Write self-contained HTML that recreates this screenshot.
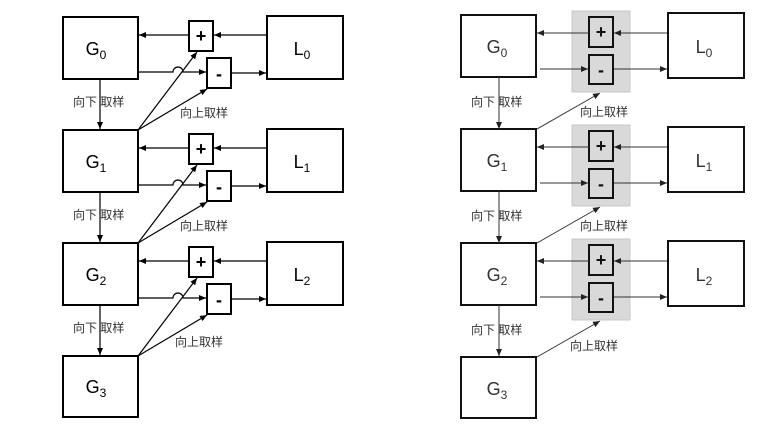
<!DOCTYPE html>
<html><head><meta charset="utf-8"><style>
body{margin:0;background:#fff;}
svg{display:block;font-family:"Liberation Sans","Noto Sans CJK SC",sans-serif;}
</style></head><body>
<svg width="783" height="424" viewBox="0 0 783 424" xmlns="http://www.w3.org/2000/svg">
<defs>
<marker id="a" markerWidth="8" markerHeight="8" refX="7" refY="4" orient="auto" markerUnits="userSpaceOnUse"><path d="M0,1 L7,4 L0,7z" fill="#000"/></marker>
<marker id="b" markerWidth="8" markerHeight="8" refX="7" refY="4" orient="auto" markerUnits="userSpaceOnUse"><path d="M0,1 L7,4 L0,7z" fill="#222"/></marker>
</defs>
<!-- LEFT -->
<g stroke="#000" fill="none" stroke-width="1.2">
<g id="L0">
<rect x="63" y="17" width="75" height="62" stroke-width="2"/>
<rect x="189" y="21" width="24" height="30" stroke-width="2"/>
<rect x="207" y="58" width="24" height="30" stroke-width="2"/>
<rect x="267" y="16" width="76" height="63" stroke-width="2"/>
<line x1="189" y1="35" x2="139" y2="35" marker-end="url(#a)"/>
<line x1="266" y1="35" x2="214" y2="35" marker-end="url(#a)"/>
<path d="M138,72 L173,72 A5,5 0 0 1 183,72 L206,72" marker-end="url(#a)"/>
<line x1="232" y1="73" x2="266" y2="73" marker-end="url(#a)"/>
</g>
<use href="#L0" y="113"/>
<use href="#L0" y="226"/>
<rect x="63" y="356" width="75" height="61" stroke-width="2"/>
<line x1="100" y1="79" x2="100" y2="129" marker-end="url(#a)"/>
<line x1="100" y1="192" x2="100" y2="242" marker-end="url(#a)"/>
<line x1="100" y1="305" x2="100" y2="355" marker-end="url(#a)"/>
<g id="U">
<line x1="138" y1="130" x2="197" y2="52" marker-end="url(#a)"/>
<line x1="138" y1="130" x2="207" y2="89" marker-end="url(#a)"/>
</g>
<use href="#U" y="113"/>
<use href="#U" y="226"/>
</g>
<g font-size="18" text-anchor="middle" fill="#000">
<text x="96" y="55">G<tspan font-size="12" dy="4">0</tspan></text>
<text x="96" y="168">G<tspan font-size="12" dy="4">1</tspan></text>
<text x="96" y="281">G<tspan font-size="12" dy="4">2</tspan></text>
<text x="96" y="393">G<tspan font-size="12" dy="4">3</tspan></text>
<text x="302" y="55">L<tspan font-size="12" dy="4">0</tspan></text>
<text x="302" y="168">L<tspan font-size="12" dy="4">1</tspan></text>
<text x="302" y="281">L<tspan font-size="12" dy="4">2</tspan></text>
</g>
<g font-size="18" font-weight="bold" text-anchor="middle">
<text x="201" y="42">+</text><text x="219" y="80">-</text>
<text x="201" y="155">+</text><text x="219" y="193">-</text>
<text x="201" y="268">+</text><text x="219" y="306">-</text>
</g>
<g font-size="12" fill="#333">
<text x="73" y="106">向下 取样</text><text x="180" y="117">向上取样</text>
<text x="73" y="219">向下 取样</text><text x="180" y="230">向上取样</text>
<text x="73" y="332">向下 取样</text><text x="175" y="346">向上取样</text>
</g>
<!-- RIGHT -->
<g stroke="#333" fill="none" stroke-width="1">
<g id="R0">
<rect x="572" y="11" width="58" height="81" fill="#d9d9d9" stroke="#c8c8c8"/>
<rect x="461" y="15" width="75" height="62" stroke="#111" stroke-width="2"/>
<rect x="589" y="17" width="24" height="30" fill="#d9d9d9" stroke="#111" stroke-width="2"/>
<rect x="589" y="55" width="24" height="29" fill="#d9d9d9" stroke="#111" stroke-width="2"/>
<rect x="668" y="13" width="76" height="65" stroke="#111" stroke-width="2"/>
<line x1="589" y1="33" x2="537" y2="33" marker-end="url(#b)"/>
<line x1="667" y1="33" x2="614" y2="33" marker-end="url(#b)"/>
<line x1="540" y1="69" x2="588" y2="69" marker-end="url(#b)"/>
<line x1="614" y1="69" x2="667" y2="69" marker-end="url(#b)"/>
</g>
<use href="#R0" y="114"/>
<use href="#R0" y="228"/>
<rect x="461" y="357" width="75" height="61" stroke="#111" stroke-width="2"/>
<line x1="499" y1="77" x2="499" y2="129" marker-end="url(#b)"/>
<line x1="499" y1="191" x2="499" y2="243" marker-end="url(#b)"/>
<line x1="499" y1="305" x2="499" y2="356" marker-end="url(#b)"/>
<line x1="537" y1="129" x2="600" y2="93" marker-end="url(#b)"/>
<line x1="537" y1="243" x2="600" y2="207" marker-end="url(#b)"/>
<line x1="537" y1="357" x2="600" y2="321" marker-end="url(#b)"/>
</g>
<g font-size="18" text-anchor="middle" fill="#333">
<text x="497" y="53">G<tspan font-size="12" dy="4">0</tspan></text>
<text x="497" y="167">G<tspan font-size="12" dy="4">1</tspan></text>
<text x="497" y="281">G<tspan font-size="12" dy="4">2</tspan></text>
<text x="497" y="395">G<tspan font-size="12" dy="4">3</tspan></text>
<text x="704" y="53">L<tspan font-size="12" dy="4">0</tspan></text>
<text x="704" y="167">L<tspan font-size="12" dy="4">1</tspan></text>
<text x="704" y="281">L<tspan font-size="12" dy="4">2</tspan></text>
</g>
<g font-size="18" font-weight="bold" text-anchor="middle" fill="#111">
<text x="601" y="38">+</text><text x="601" y="76">-</text>
<text x="601" y="152">+</text><text x="601" y="190">-</text>
<text x="601" y="266">+</text><text x="601" y="304">-</text>
</g>
<g font-size="12" fill="#333">
<text x="471" y="106">向下 取样</text><text x="580" y="116">向上取样</text>
<text x="471" y="220">向下 取样</text><text x="580" y="230">向上取样</text>
<text x="471" y="334">向下 取样</text><text x="570" y="350">向上取样</text>
</g>
</svg>
</body></html>
